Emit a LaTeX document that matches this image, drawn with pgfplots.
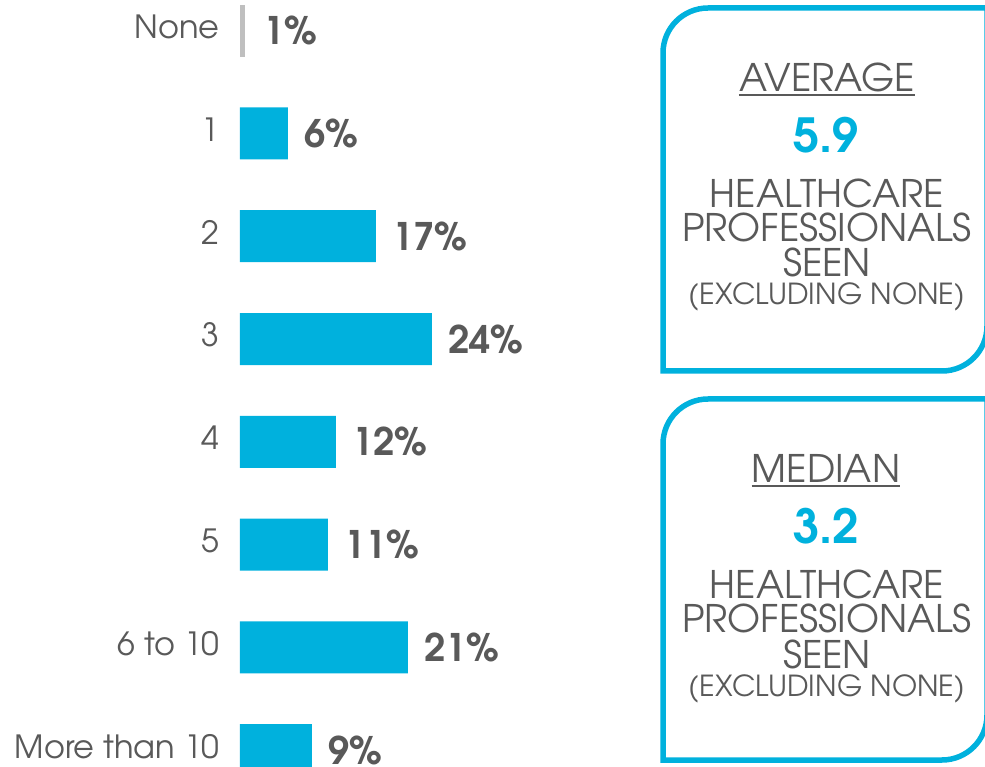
\documentclass[border=0pt]{standalone}
\usepackage{pgfplots}
\pgfplotsset{compat=1.18}
\usepackage{fontspec}
\setmainfont{texgyreadventor}[Extension=.otf, UprightFont=*-regular, BoldFont=*-bold, ItalicFont=*-italic, BoldItalicFont=*-bolditalic]
\definecolor{barblue}{HTML}{00B1DD}
\definecolor{txtgrey}{HTML}{595959}
\definecolor{nonegrey}{HTML}{BFBFBF}
\begin{document}
\begin{tikzpicture}[x=1pt,y=1pt]
\path[use as bounding box] (0,0) rectangle (985,766);
\begin{scope}
\clip (0,0) rectangle (985,766);
\begin{axis}[
  at={(240pt,0pt)}, anchor=south west,
  scale only axis, width=200pt, height=766pt,
  xmin=0, xmax=25,
  ymin=-0.298, ymax=7.154, y dir=reverse,
  xbar, bar width=52pt, bar shift=0pt,
  axis line style={draw=none},
  tick style={draw=none},
  xtick=\empty,
  ytick={0,1,2,3,4,5,6,7},
  yticklabels={None,1,2,3,4,5,6 to 10,More than 10},
  yticklabel style={anchor=east, inner sep=0pt, xshift=-16pt, yshift=4pt,
    font=\fontsize{32}{32}\selectfont, text=txtgrey},
  point meta=explicit symbolic,
  nodes near coords={\pgfplotspointmeta\%},
  nodes near coords style={anchor=west, inner sep=0pt, xshift=16pt,
    font=\fontsize{38}{38}\selectfont\bfseries, text=txtgrey},
]
\addplot[fill=nonegrey, draw=none, nodes near coords style={xshift=2pt}] table[x=v, y=c, meta=l] {
c v l
0 0.65 1
};
\addplot[fill=barblue, draw=none] table[x=v, y=c, meta=l] {
c v l
1 6 6
2 17 17
3 24 24
4 12 12
5 11 11
6 21 21
7 9 9
};
\end{axis}

% Box 1
\draw[barblue, line width=5.5pt]
  (987,758) -- (708,758) arc[start angle=90, end angle=180, radius=45]
  -- (663,395) -- (942,395) arc[start angle=-90, end angle=0, radius=45]
  -- (987,758);
% Box 2
\draw[barblue, line width=5.5pt]
  (987,367) -- (708,367) arc[start angle=90, end angle=180, radius=45]
  -- (663,6) -- (942,6) arc[start angle=-90, end angle=0, radius=45]
  -- (987,367);

\begin{scope}[every node/.style={inner sep=0pt, anchor=base, text=txtgrey}]
\node[font=\fontsize{38}{38}\selectfont] (avg) at (827,674) {AVERAGE};
\draw[txtgrey, line width=1.8pt] ([yshift=-3pt]avg.base west) -- ([yshift=-3pt]avg.base east);
\node[font=\fontsize{47}{47}\selectfont\bfseries, text=barblue] at (826,613) {5.9};
\node[font=\fontsize{38}{38}\selectfont] at (827,558) {HEALTHCARE};
\node[font=\fontsize{38}{38}\selectfont] at (827,524) {PROFESSIONALS};
\node[font=\fontsize{38}{38}\selectfont] at (827,489) {SEEN};
\node[font=\fontsize{29}{29}\selectfont] at (827,461) {(EXCLUDING NONE)};

\node[font=\fontsize{38}{38}\selectfont] (med) at (826,283) {MEDIAN};
\draw[txtgrey, line width=1.8pt] ([yshift=-3pt]med.base west) -- ([yshift=-3pt]med.base east);
\node[font=\fontsize{47}{47}\selectfont\bfseries, text=barblue] at (826,222) {3.2};
\node[font=\fontsize{38}{38}\selectfont] at (827,167) {HEALTHCARE};
\node[font=\fontsize{38}{38}\selectfont] at (827,133) {PROFESSIONALS};
\node[font=\fontsize{38}{38}\selectfont] at (827,98) {SEEN};
\node[font=\fontsize{29}{29}\selectfont] at (827,70) {(EXCLUDING NONE)};
\end{scope}
\end{scope}
\end{tikzpicture}
\end{document}
